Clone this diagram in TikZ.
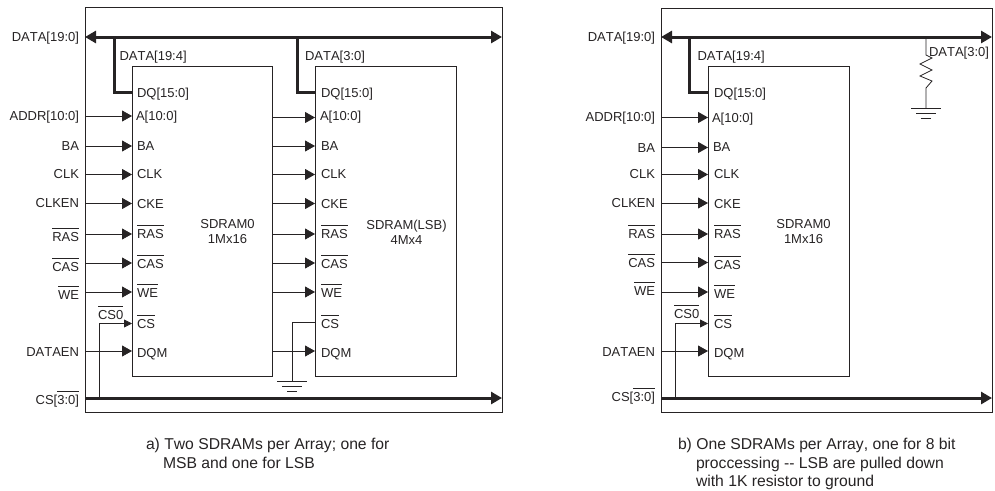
\documentclass[tikz,border=0pt]{standalone}
\usepackage{fontspec}
\setmainfont[Kerning=Off]{Liberation Sans}
\usetikzlibrary{arrows.meta}
\definecolor{ink}{HTML}{262324}
\newcommand\ovl[1]{$\overline{\rule{0pt}{11.6pt}\mbox{#1}}$}
\tikzset{
  wire/.style={draw=ink,line width=0.8pt},
  sig/.style={wire,-{Triangle[length=10pt,width=11pt]}},
  smallsig/.style={wire,-{Triangle[length=8pt,width=8pt]}},
  bus/.style={draw=ink,line width=3pt},
  frm/.style={draw=ink,line width=0.9pt,fill=none,inner sep=0pt,outer sep=0pt},
  txt/.style={inner sep=0pt,outer sep=0pt,text=ink,font=\fontsize{13}{15}\selectfont},
  lbl/.style={txt,anchor=base east},
  pin/.style={txt,anchor=base west},
  captxt/.style={txt,anchor=base west,font=\fontsize{15.7}{18}\selectfont},
}
\newcommand\ground[1]{%
  \path (#1) ++(-15,0) coordinate (ga) ++(30,0) coordinate (gb);
  \draw[wire] (ga) -- (gb);
  \path (#1) ++(-10,5) coordinate (ga) ++(20,0) coordinate (gb);
  \draw[wire] (ga) -- (gb);
  \path (#1) ++(-5,10) coordinate (ga) ++(10,0) coordinate (gb);
  \draw[wire] (ga) -- (gb);
}
\begin{document}
\begin{tikzpicture}[x=1pt,y=-1pt]
\useasboundingbox (0,0) rectangle (995,490);
% ---------- left diagram ----------
\node[frm,minimum width=417pt,minimum height=405pt] (FA) at (293.5,209.5) {};
\node[frm,minimum width=140.5pt,minimum height=310pt] (S0) at (202.25,221.5) {};
\node[frm,minimum width=141pt,minimum height=310pt] (S1) at (385.5,221.5) {};
\node[txt,align=center] (S0t) at (227.5,232) {SDRAM0\\1Mx16};
\node[txt,align=center] (S1t) at (406.5,232) {SDRAM(LSB)\\4Mx4};
\node[lbl] (dA) at (79,41) {DATA[19:0]};
\node[txt,anchor=base west] (d194A) at (119.5,60) {DATA[19:4]};
\node[txt,anchor=base west] (d30A) at (305,60) {DATA[3:0]};
\node[pin] (dq0) at (137,97) {DQ[15:0]};
\node[pin] (dq1) at (321,97) {DQ[15:0]};
\coordinate (bAl) at (85,37); \coordinate (bAr) at (502,37);
\coordinate (t1) at (114,37); \coordinate (t2) at (297,37);
\coordinate (q0) at (132,92); \coordinate (q1) at (315,92);
\draw[bus,{Triangle[length=11pt,width=12pt]}-{Triangle[length=11pt,width=12pt]}] (bAl) -- (bAr);
\draw[bus,line join=miter] (t1) |- (q0);
\draw[bus,line join=miter] (t2) |- (q1);
\foreach \n/\y/\yr/\lb/\pb/\l/\p/\px in {
 a/116/117.5/120.5/120.5/{ADDR[10:0]}/{A[10:0]}/136,
 b/146/146/150/150/BA/BA/137,
 c/174.5/174.5/178/178/CLK/CLK/137,
 k/203.5/203.5/207/208/CLKEN/CKE/137,
 r/234/234/241.5/238/\ovl{RAS}/\ovl{RAS}/137,
 s/263/263/271/268/\ovl{CAS}/\ovl{CAS}/137,
 w/292/292/299/297.5/\ovl{WE}/\ovl{WE}/137,
 m/351/351/356.5/357/DATAEN/DQM/137}{
  \node[lbl] (L\n) at (79,\lb) {\l};
  \node[pin] (P\n) at (\px,\pb) {\p};
  \node[pin] (Q\n) at (\px+184,\pb) {\p};
  \coordinate (fA\n) at (85,\y);
  \coordinate (iA\n) at (132,\y);
  \coordinate (oA\n) at (272.5,\yr);
  \coordinate (jA\n) at (315,\yr);
  \draw[sig] (fA\n) -- (iA\n);
  \draw[sig] (oA\n) -- (jA\n);
}
\node[pin] (Pcs) at (137,328) {\ovl{CS}};
\node[pin] (Qcs) at (321,328) {\ovl{CS}};
\node[txt,anchor=base west] (cs0A) at (98,319) {\ovl{CS0}};
\node[lbl] (LcsA) at (79,404) {CS[\ovl{3:0]}};
\coordinate (cAl) at (85,398); \coordinate (cAr) at (502,398);
\coordinate (cAt) at (99,398); \coordinate (cAi) at (132,323.5);
\draw[bus,-{Triangle[length=11pt,width=12pt]}] (cAl) -- (cAr);
\draw[smallsig] (cAt) |- (cAi);
\coordinate (gA) at (292,381); \coordinate (csin) at (315,322.5);
\draw[wire] (csin) -| (gA);
\ground{gA}
\node[captxt] (capA1) at (146,449) {a) Two SDRAMs per Array; one for};
\node[captxt] (capA2) at (163,468) {MSB and one for LSB};
% ---------- right diagram ----------
\node[frm,minimum width=331pt,minimum height=404pt] (FB) at (826.5,210) {};
\node[frm,minimum width=141pt,minimum height=310pt] (S2) at (778.5,221.5) {};
\node[txt,align=center] (S2t) at (803.5,232) {SDRAM0\\1Mx16};
\node[lbl] (dB) at (655,41) {DATA[19:0]};
\node[txt,anchor=base west] (d194B) at (697.5,60) {DATA[19:4]};
\node[txt,anchor=base west] (d30B) at (929,56) {DATA[3:0]};
\node[pin] (dq2) at (714,97) {DQ[15:0]};
\coordinate (bBl) at (661,37); \coordinate (bBr) at (992,37);
\coordinate (t3) at (689.5,37); \coordinate (q2) at (708,92);
\draw[bus,{Triangle[length=11pt,width=12pt]}-{Triangle[length=11pt,width=12pt]}] (bBl) -- (bBr);
\draw[bus,line join=miter] (t3) |- (q2);
\foreach \n/\y/\lb/\pb/\l/\p/\px in {
 a/117.5/121.5/122/{ADDR[10:0]}/{A[10:0]}/712,
 b/147.5/152.5/151/BA/BA/713,
 c/174.5/178/178/CLK/CLK/714,
 k/203/207/208/CLKEN/CKE/714,
 r/234/238/238/\ovl{RAS}/\ovl{RAS}/714,
 s/262.5/267/269.5/\ovl{CAS}/\ovl{CAS}/714,
 w/292/295/298/\ovl{WE}/\ovl{WE}/714,
 m/351/356/357/DATAEN/DQM/714}{
  \node[lbl] (M\n) at (655,\lb) {\l};
  \node[pin] (R\n) at (\px,\pb) {\p};
  \coordinate (fB\n) at (661,\y);
  \coordinate (iB\n) at (708,\y);
  \draw[sig] (fB\n) -- (iB\n);
}
\node[pin] (Rcs) at (714,328) {\ovl{CS}};
\node[txt,anchor=base west] (cs0B) at (674,318) {\ovl{CS0}};
\node[lbl] (LcsB) at (655,401) {CS[\ovl{3:0]}};
\coordinate (cBl) at (661,398); \coordinate (cBr) at (992,398);
\coordinate (cBt) at (675,398); \coordinate (cBi) at (708,323.5);
\draw[bus,-{Triangle[length=11pt,width=12pt]}] (cBl) -- (cBr);
\draw[smallsig] (cBt) |- (cBi);
\coordinate (rt) at (926,37); \coordinate (gB) at (926,108);
\coordinate (r0) at (926,55); \coordinate (r1) at (926,88);
\draw[wire] (rt) -- (r0) -- (932,58) -- (920,64) -- (932,70) -- (920,76) -- (932,81) -- (r1) -- (gB);
\ground{gB}
\node[captxt] (capB1) at (678,449) {b) One SDRAMs per Array, one for 8 bit};
\node[captxt] (capB2) at (696,468) {proccessing -{}- LSB are pulled down};
\node[captxt] (capB3) at (696,486.5) {with 1K resistor to ground};
\end{tikzpicture}
\end{document}
